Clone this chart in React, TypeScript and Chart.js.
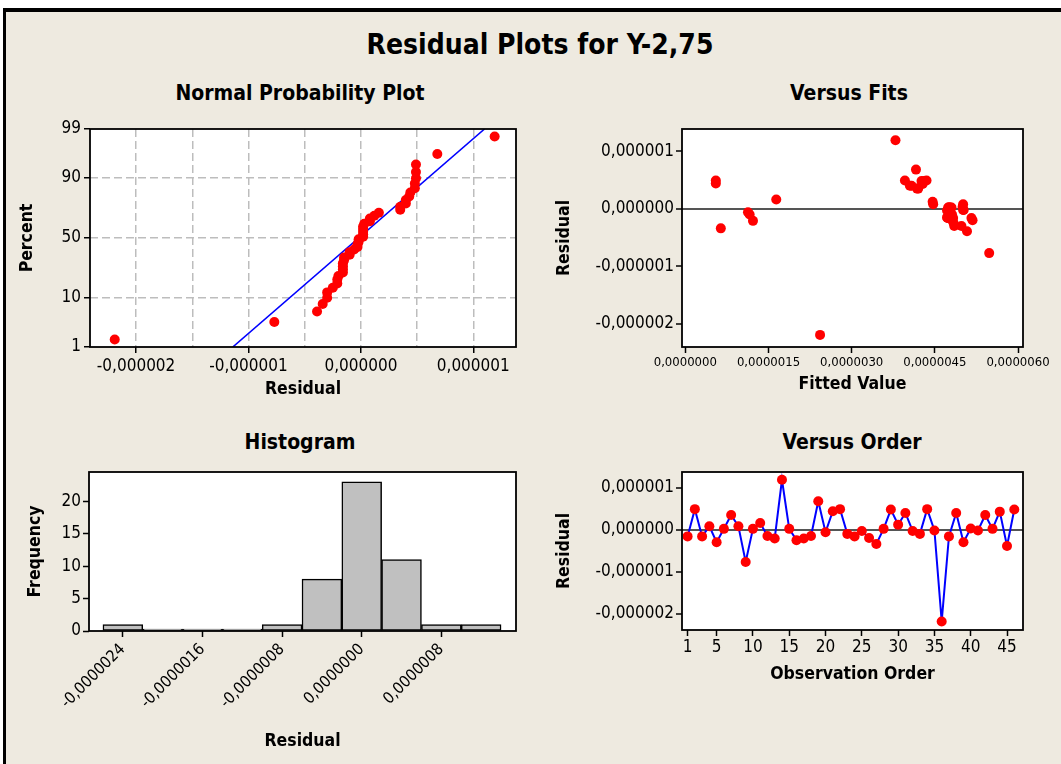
import React, { useEffect, useRef } from 'react';
import { Chart, registerables } from 'chart.js';
Chart.register(...registerables);

// ---------------- data ----------------
// residuals in observation order (1..46)
const residuals = [
  -0.16e-6, 0.49e-6, -0.16e-6, 0.08e-6, -0.30e-6, 0.02e-6, 0.35e-6, 0.08e-6, -0.77e-6, 0.02e-6,
  0.16e-6, -0.15e-6, -0.21e-6, 1.19e-6, 0.02e-6, -0.25e-6, -0.21e-6, -0.15e-6, 0.68e-6, -0.06e-6,
  0.44e-6, 0.49e-6, -0.10e-6, -0.16e-6, -0.03e-6, -0.20e-6, -0.34e-6, 0.02e-6, 0.48e-6, 0.12e-6,
  0.40e-6, -0.03e-6, -0.10e-6, 0.49e-6, -0.02e-6, -2.19e-6, -0.16e-6, 0.40e-6, -0.30e-6, 0.03e-6,
  -0.02e-6, 0.35e-6, 0.02e-6, 0.43e-6, -0.39e-6, 0.48e-6,
];
// fitted values for the same observations
const fittedValues = [
  4.73e-6, 0.55e-6, 4.83e-6, 4.47e-6, 4.98e-6, 4.74e-6, 4.18e-6, 5.01e-6, 5.48e-6, 4.76e-6,
  1.64e-6, 4.79e-6, 1.22e-6, 3.79e-6, 4.80e-6, 4.84e-6, 4.82e-6, 4.72e-6, 4.16e-6, 1.13e-6,
  0.55e-6, 3.96e-6, 1.16e-6, 4.74e-6, 4.72e-6, 5.18e-6, 0.64e-6, 4.78e-6, 4.26e-6, 4.46e-6,
  4.05e-6, 4.77e-6, 4.81e-6, 4.35e-6, 5.01e-6, 2.43e-6, 5.16e-6, 4.08e-6, 4.85e-6, 5.00e-6,
  5.02e-6, 4.20e-6, 4.75e-6, 4.28e-6, 5.08e-6, 4.30e-6,
];
// histogram
const binCenters = [-2.4e-6, -2.0e-6, -1.6e-6, -1.2e-6, -0.8e-6, -0.4e-6, 0, 0.4e-6, 0.8e-6, 1.2e-6];
const binCounts = [1, 0, 0, 0, 1, 8, 23, 11, 1, 1];
// normal probability reference line (residual at 1% and 99%)
const normLineX = [-1.14e-6, 1.10e-6];
const normLineP = [1, 99];
// ticks
const normXGrid = [-2e-6, -1.5e-6, -1e-6, -0.5e-6, 0, 0.5e-6, 1e-6];
const normXLabeled = [-2e-6, -1e-6, 0, 1e-6];
const probTicks = [1, 10, 50, 90, 99];
const fitsXTicks = [0, 1.5e-6, 3e-6, 4.5e-6, 6e-6];
const residTicks = [-2e-6, -1e-6, 0, 1e-6];
const histXTicks = [-2.4e-6, -1.6e-6, -0.8e-6, 0, 0.8e-6];
const histYTicks = [0, 5, 10, 15, 20];
const orderXTicks = [1, 5, 10, 15, 20, 25, 30, 35, 40, 45];

// ---------------- helpers ----------------
const FAMILY = "'DejaVu Sans Condensed', 'DejaVu Sans', sans-serif";
const TICK_FONT = { family: FAMILY, size: 17 };
const AXIS_FONT = { family: FAMILY, size: 17.5, weight: 'bold' as const };
const DOT = 5;

function fmt(v: number, digits: number) {
  const r = Math.abs(v) < 1e-13 ? 0 : v;
  return r.toFixed(digits).replace('.', ',');
}

function probit(p: number): number {
  const a = [-3.969683028665376e1, 2.209460984245205e2, -2.759285104469687e2, 1.38357751867269e2, -3.066479806614716e1, 2.506628277459239];
  const b = [-5.447609879822406e1, 1.615858368580409e2, -1.556989798598866e2, 6.680131188771972e1, -1.328068155288572e1];
  const c = [-7.784894002430293e-3, -3.223964580411365e-1, -2.400758277161838, -2.549732539343734, 4.374664141464968, 2.938163982698783];
  const d = [7.784695709041462e-3, 3.224671290700398e-1, 2.445134137142996, 3.754408661907416];
  const pl = 0.02425;
  if (p < pl) {
    const q = Math.sqrt(-2 * Math.log(p));
    return (((((c[0] * q + c[1]) * q + c[2]) * q + c[3]) * q + c[4]) * q + c[5]) / ((((d[0] * q + d[1]) * q + d[2]) * q + d[3]) * q + 1);
  }
  if (p <= 1 - pl) {
    const q = p - 0.5;
    const r = q * q;
    return ((((((a[0] * r + a[1]) * r + a[2]) * r + a[3]) * r + a[4]) * r + a[5]) * q) / (((((b[0] * r + b[1]) * r + b[2]) * r + b[3]) * r + b[4]) * r + 1);
  }
  const q = Math.sqrt(-2 * Math.log(1 - p));
  return -(((((c[0] * q + c[1]) * q + c[2]) * q + c[3]) * q + c[4]) * q + c[5]) / ((((d[0] * q + d[1]) * q + d[2]) * q + d[3]) * q + 1);
}

const framePlugin = {
  id: 'frame',
  beforeDraw(chart: any) {
    const { ctx, chartArea: a } = chart;
    ctx.save();
    ctx.fillStyle = '#ffffff';
    ctx.fillRect(a.left, a.top, a.right - a.left, a.bottom - a.top);
    ctx.restore();
  },
  afterDraw(chart: any) {
    const { ctx, chartArea: a } = chart;
    ctx.save();
    ctx.strokeStyle = '#000000';
    ctx.lineWidth = 1.8;
    ctx.strokeRect(a.left, a.top, a.right - a.left, a.bottom - a.top);
    ctx.restore();
  },
};

const setTicks = (vals: number[]) => (s: any) => {
  s.ticks = vals.map((v) => ({ value: v }));
};

function baseOpts(pad: any) {
  return {
    animation: false,
    responsive: false,
    devicePixelRatio: 1,
    layout: { padding: pad },
    plugins: { legend: { display: false }, tooltip: { enabled: false } },
  };
}

function axisGrid(extra: any = {}) {
  return {
    drawOnChartArea: false,
    tickLength: 6,
    tickWidth: 1.5,
    tickColor: '#000',
    ...extra,
  };
}

// ---------------- charts ----------------
function makeNormal(): any {
  const n = residuals.length;
  const sorted = [...residuals].sort((p, q) => p - q);
  const pts = sorted.map((v, i) => ({ x: v, y: probit((i + 1 - 0.3) / (n + 0.4)) }));
  const line = normLineX.map((v, i) => ({ x: v, y: probit(normLineP[i] / 100) }));
  const isLab = (v: number) => normXLabeled.some((t) => Math.abs(t - v) < 1e-12);
  return {
    type: 'scatter',
    data: {
      datasets: [
        { type: 'scatter', data: pts, backgroundColor: '#FF0000', borderColor: '#FF0000', borderWidth: 0, pointRadius: DOT, order: 1 },
        { type: 'line', data: line, borderColor: '#0000FF', borderWidth: 1.6, pointRadius: 0, fill: false, order: 2 },
      ],
    },
    options: {
      ...baseOpts({ top: 24, right: 24, bottom: 0, left: 0 }),
      scales: {
        x: {
          type: 'linear', min: -2.41e-6, max: 1.38e-6,
          afterFit: (s: any) => { s.height = 68; },
          afterBuildTicks: setTicks(normXGrid),
          grid: {
            drawOnChartArea: true, color: '#BDBDBD', lineWidth: 1.5, tickLength: 6, tickWidth: 1.5,
            tickColor: (c: any) => (c.tick && isLab(c.tick.value) ? '#000' : 'rgba(0,0,0,0)'),
            tickBorderDash: [],
          },
          border: { display: false, dash: [8, 4] },
          ticks: { autoSkip: false, maxRotation: 0, padding: 3, color: '#000', font: TICK_FONT, callback: (v: any) => (isLab(v) ? fmt(v, 6) : '') },
          title: { display: true, text: 'Residual', color: '#000', font: AXIS_FONT, padding: { top: 0, bottom: 15.5 } },
        },
        y: {
          type: 'linear', min: probit(0.01), max: probit(0.99),
          afterFit: (s: any) => { s.width = 90; },
          afterBuildTicks: setTicks(probTicks.map((p) => probit(p / 100))),
          grid: {
            drawOnChartArea: true, color: (c: any) => (c.index === 0 || c.index === probTicks.length - 1 ? 'rgba(0,0,0,0)' : '#BDBDBD'),
            lineWidth: 1.5, tickLength: 6, tickWidth: 1.5, tickColor: '#000', tickBorderDash: [],
          },
          border: { display: false, dash: [8, 4] },
          ticks: { autoSkip: false, padding: 3, color: '#000', font: TICK_FONT, callback: (_v: any, i: number) => String(probTicks[i]) },
          title: { display: true, text: 'Percent', color: '#000', font: AXIS_FONT, padding: { top: 16.5, bottom: 0 } },
        },
      },
    },
    plugins: [framePlugin],
  };
}

function zeroGrid() {
  return {
    drawOnChartArea: true,
    color: (c: any) => (c.tick && Math.abs(c.tick.value) < 1e-13 ? '#555555' : 'rgba(0,0,0,0)'),
    lineWidth: 2,
    tickLength: 6,
    tickWidth: 1.5,
    tickColor: '#000',
  };
}

function makeFits(): any {
  const pts = fittedValues.map((f, i) => ({ x: f, y: residuals[i] }));
  return {
    type: 'scatter',
    data: { datasets: [{ data: pts, backgroundColor: '#FF0000', borderColor: '#FF0000', borderWidth: 0, pointRadius: DOT }] },
    options: {
      ...baseOpts({ top: 24, right: 38, bottom: 0, left: 0 }),
      scales: {
        x: {
          type: 'linear', min: -0.06e-6, max: 6.09e-6,
          afterFit: (s: any) => { s.height = 68; },
          afterBuildTicks: setTicks(fitsXTicks),
          grid: axisGrid(),
          border: { display: false },
          ticks: { autoSkip: false, maxRotation: 0, padding: 2, color: '#000', font: { family: FAMILY, size: 13 }, callback: (v: any) => fmt(v, 7) },
          title: { display: true, text: 'Fitted Value', color: '#000', font: AXIS_FONT, padding: { top: 0, bottom: 20.5 } },
        },
        y: {
          type: 'linear', min: -2.4e-6, max: 1.385e-6,
          afterFit: (s: any) => { s.width = 137; },
          afterBuildTicks: setTicks(residTicks),
          grid: zeroGrid(),
          border: { display: false },
          ticks: { autoSkip: false, padding: 2, color: '#000', font: TICK_FONT, callback: (v: any) => fmt(v, 6) },
          title: { display: true, text: 'Residual', color: '#000', font: AXIS_FONT, padding: { top: 8.5, bottom: 0 } },
        },
      },
    },
    plugins: [framePlugin],
  };
}

function makeHist(): any {
  return {
    type: 'bar',
    data: {
      datasets: [{
        data: binCenters.map((c, i) => ({ x: c, y: binCounts[i] })),
        backgroundColor: '#C0C0C0', borderColor: '#000000', borderWidth: 1.5, borderSkipped: false,
        barPercentage: 1, categoryPercentage: 1, minBarLength: 2,
      }],
    },
    options: {
      ...baseOpts({ top: 22, right: 24, bottom: 0, left: 0 }),
      scales: {
        x: {
          type: 'linear', min: -2.74e-6, max: 1.55e-6, offset: false,
          afterFit: (s: any) => { s.height = 133; },
          afterBuildTicks: setTicks(histXTicks),
          grid: axisGrid({ offset: false }),
          border: { display: false },
          ticks: { autoSkip: false, minRotation: 45, maxRotation: 45, padding: 3, color: '#000', font: { family: FAMILY, size: 16 }, callback: (v: any) => fmt(v, 7) },
          title: { display: true, text: 'Residual', color: '#000', font: AXIS_FONT, padding: { top: 0, bottom: 12.5 } },
        },
        y: {
          type: 'linear', min: 0, max: 24.5,
          afterFit: (s: any) => { s.width = 89; },
          afterBuildTicks: setTicks(histYTicks),
          grid: axisGrid(),
          border: { display: false },
          ticks: { autoSkip: false, padding: 2, color: '#000', font: TICK_FONT, callback: (v: any) => String(v) },
          title: { display: true, text: 'Frequency', color: '#000', font: AXIS_FONT, padding: { top: 24.5, bottom: 0 } },
        },
      },
    },
    plugins: [framePlugin],
  };
}

function makeOrder(): any {
  const pts = residuals.map((r, i) => ({ x: i + 1, y: r }));
  return {
    type: 'line',
    data: {
      datasets: [{
        data: pts, borderColor: '#0000FF', borderWidth: 2, fill: false, tension: 0,
        pointRadius: DOT, pointBackgroundColor: '#FF0000', pointBorderColor: '#FF0000', pointBorderWidth: 0,
      }],
    },
    options: {
      ...baseOpts({ top: 22, right: 38, bottom: 0, left: 0 }),
      scales: {
        x: {
          type: 'linear', min: 0.23, max: 47.2,
          afterFit: (s: any) => { s.height = 70; },
          afterBuildTicks: setTicks(orderXTicks),
          grid: axisGrid(),
          border: { display: false },
          ticks: { autoSkip: false, maxRotation: 0, padding: 1, color: '#000', font: TICK_FONT, callback: (v: any) => String(v) },
          title: { display: true, text: 'Observation Order', color: '#000', font: AXIS_FONT, padding: { top: 0, bottom: 15.5 } },
        },
        y: {
          type: 'linear', min: -2.393e-6, max: 1.376e-6,
          afterFit: (s: any) => { s.width = 137; },
          afterBuildTicks: setTicks(residTicks),
          grid: zeroGrid(),
          border: { display: false },
          ticks: { autoSkip: false, padding: 2, color: '#000', font: TICK_FONT, callback: (v: any) => fmt(v, 6) },
          title: { display: true, text: 'Residual', color: '#000', font: AXIS_FONT, padding: { top: 8.5, bottom: 0 } },
        },
      },
    },
    plugins: [framePlugin],
  };
}

function ChartPanel({ x, y, w, h, make }: { x: number; y: number; w: number; h: number; make: () => any }) {
  const ref = useRef<HTMLCanvasElement>(null);
  useEffect(() => {
    const chart = new Chart(ref.current as HTMLCanvasElement, make());
    return () => chart.destroy();
  }, [make]);
  return <canvas ref={ref} width={w} height={h} style={{ position: 'absolute', left: x, top: y, width: w, height: h }} />;
}

function Title({ text, cx, cy, size }: { text: string; cx: number; cy: number; size: number }) {
  return (
    <div
      style={{
        position: 'absolute', left: cx - 300, width: 600, top: cy - size * 0.6, height: size * 1.2,
        lineHeight: `${size * 1.2}px`, textAlign: 'center', fontFamily: FAMILY, fontWeight: 'bold',
        fontSize: size, color: '#000', whiteSpace: 'nowrap',
      }}
    >
      {text}
    </div>
  );
}

export default function App() {
  return (
    <div style={{ position: 'absolute', left: 0, top: 0, width: 1061, height: 764, background: '#ffffff', overflow: 'hidden' }}>
      <div style={{ position: 'absolute', left: 3, top: 8, width: 1058, height: 756, boxSizing: 'border-box', borderLeft: '3px solid #000', borderTop: '4px solid #000', background: '#EEEAE0' }} />
      <Title text="Residual Plots for Y-2,75" cx={540} cy={45} size={28} />
      <Title text="Normal Probability Plot" cx={300} cy={94} size={21} />
      <Title text="Versus Fits" cx={849} cy={94} size={21} />
      <Title text="Histogram" cx={300} cy={443} size={21} />
      <Title text="Versus Order" cx={852} cy={443} size={21} />
      <ChartPanel x={0} y={105} w={540} h={310} make={makeNormal} />
      <ChartPanel x={545} y={105} w={516} h={310} make={makeFits} />
      <ChartPanel x={0} y={450} w={540} h={314} make={makeHist} />
      <ChartPanel x={545} y={450} w={516} h={250} make={makeOrder} />
    </div>
  );
}
